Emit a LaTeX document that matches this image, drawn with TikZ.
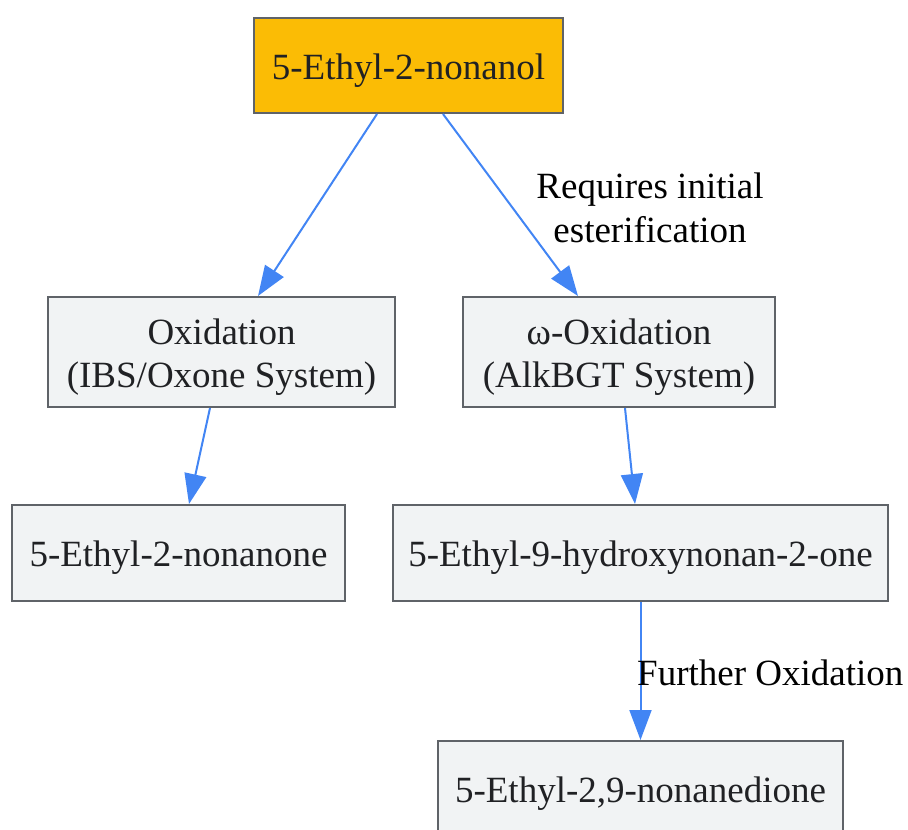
\documentclass[tikz,border=0pt]{standalone}
\usepackage{fontspec}
\setmainfont{Liberation Serif}
\usetikzlibrary{arrows.meta}
\definecolor{startfill}{HTML}{FBBC05}
\definecolor{boxfill}{HTML}{F1F3F4}
\definecolor{boxline}{HTML}{5F6368}
\definecolor{flowblue}{HTML}{4285F4}
\definecolor{boxtext}{HTML}{202124}

\begin{document}
\begin{tikzpicture}[
  x=1pt, y=-1pt,
  chembox/.style={draw=boxline, line width=2pt, fill=boxfill, text=boxtext, align=center, inner sep=0pt, minimum height=96pt, font=\fontsize{37}{43}\selectfont, execute at begin node={\rule{0pt}{35pt}}},
  stepbox/.style={chembox, minimum height=110pt, execute at begin node={\rule{0pt}{79pt}}},
  edgenote/.style={align=center, text=black, inner sep=0pt, font=\fontsize{37}{44}\selectfont},
  arrow/.style={-{Triangle[length=30pt,width=22pt]}, draw=flowblue, fill=flowblue, line width=2pt}
]
  \useasboundingbox (0,0) rectangle (908,830);

  % Starting alcohol
  \node[chembox, fill=startfill, minimum width=309pt, minimum height=95pt] (alcohol) at (408.5,65.5) {5-Ethyl-2-nonanol};

  % Two oxidation routes
  \node[stepbox, minimum width=347pt] (ibs) at (221.5,352) {Oxidation\\(IBS/Oxone System)};
  \node[stepbox, minimum width=312pt] (alkb) at (619,352) {ω-Oxidation\\(AlkBGT System)};

  % Products
  \node[chembox, minimum width=333pt] (ketone) at (178.5,553) {5-Ethyl-2-nonanone};
  \node[chembox, minimum width=495pt] (hydroxy) at (640.5,553) {5-Ethyl-9-hydroxynonan-2-one};
  \node[chembox, minimum width=405pt] (dione) at (640.5,789) {5-Ethyl-2,9-nonanedione};

  \draw[arrow] ([xshift=-31.5pt]alcohol.south) -- ([xshift=36.5pt]ibs.north);
  \draw[arrow] ([xshift=34.5pt]alcohol.south) -- ([xshift=-41pt]alkb.north);
  \node[edgenote] (esternote) at (650,208) {Requires initial\\esterification};

  \draw[arrow] ([xshift=-11.5pt]ibs.south) -- ([xshift=10.5pt]ketone.north);
  \draw[arrow] ([xshift=6pt]alkb.south) -- ([xshift=-5.5pt]hydroxy.north);

  \draw[arrow] (hydroxy.south) -- (dione.north);
  \node[edgenote, anchor=west] (furthernote) at (637,673) {Further Oxidation};
\end{tikzpicture}
\end{document}
